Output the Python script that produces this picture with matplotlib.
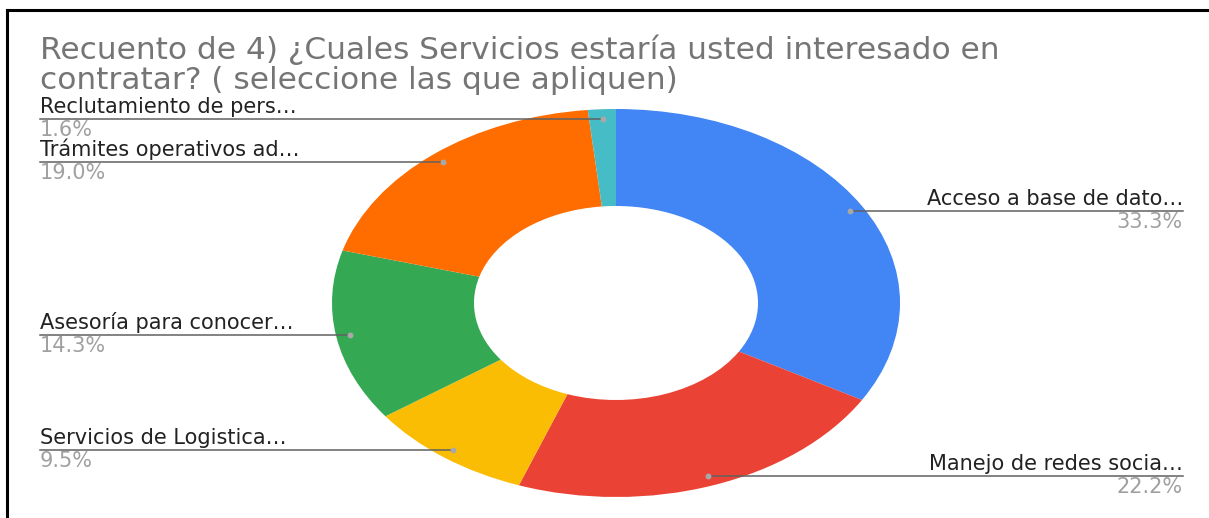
import numpy as np
import matplotlib
matplotlib.use('Agg')
import matplotlib.pyplot as plt
from matplotlib.lines import Line2D

# respuestas por servicio (total 63)
labels = ['Acceso a base de dato…', 'Manejo de redes socia…', 'Servicios de Logistica…',
          'Asesoría para conocer…', 'Trámites operativos ad…', 'Reclutamiento de pers…']
counts = [21, 14, 6, 9, 12, 1]
colors = ['#4285F4', '#EA4335', '#FBBC04', '#34A853', '#FF6D01', '#46BDC6']
title_lines = ['Recuento de 4) ¿Cuales Servicios estaría usted interesado en',
               'contratar? ( seleccione las que apliquen)']

W, H = 1209, 518
fig = plt.figure(figsize=(W / 100, H / 100), dpi=100)
fig.patch.set_facecolor('white')
plt.rcParams['font.family'] = ['DejaVu Sans']

# marco negro (solo arriba e izquierda se ven)
fig.add_artist(Line2D([7 / W, 7 / W], [0, 1 - 10 / H], color='black', lw=2.2, transform=fig.transFigure))
fig.add_artist(Line2D([7 / W, 1], [1 - 10 / H, 1 - 10 / H], color='black', lw=2.2, transform=fig.transFigure))

# titulo en dos lineas
fig.text(40 / W, 1 - 59 / H, title_lines[0], fontsize=22.5, color='#757575', va='baseline', ha='left')
fig.text(40 / W, 1 - 89 / H, title_lines[1], fontsize=22.5, color='#757575', va='baseline', ha='left')

# dona (elipse: ejes sin aspecto igual)
cx, cy, rx, ry = 616, 303, 284, 194
ax = fig.add_axes([(cx - rx) / W, (H - cy - ry) / H, 2 * rx / W, 2 * ry / H])
wedges, _ = ax.pie(counts, colors=colors, startangle=90, counterclock=False, radius=1,
                   wedgeprops=dict(width=0.5, linewidth=0))
ax.set_aspect('auto')
ax.set_xlim(-1, 1)
ax.set_ylim(-1, 1)
ax.axis('off')

x_left = (40 - cx) / rx
x_right = (1183 - cx) / rx
for w, lab, n in zip(wedges, labels, counts):
    ang = np.deg2rad((w.theta1 + w.theta2) / 2)
    px, py = 0.95 * np.cos(ang), 0.95 * np.sin(ang)
    pct = '%.1f%%' % (100.0 * n / sum(counts))
    if px > 0:
        xl, ha = x_right, 'right'
    else:
        xl, ha = x_left, 'left'
    ax.plot([px, xl], [py, py], color='#616161', lw=1.1, clip_on=False, zorder=3)
    ax.plot(px, py, 'o', ms=3.2, color='#a8a8a8', clip_on=False, zorder=4)
    ax.annotate(lab, xy=(xl, py), xytext=(0, 2), textcoords='offset pixels',
                ha=ha, va='bottom', fontsize=15, color='#222222', annotation_clip=False)
    ax.annotate(pct, xy=(xl, py), xytext=(0, -1), textcoords='offset pixels',
                ha=ha, va='top', fontsize=15, color='#a0a0a0', annotation_clip=False)

plt.savefig('out.png', dpi=100)
